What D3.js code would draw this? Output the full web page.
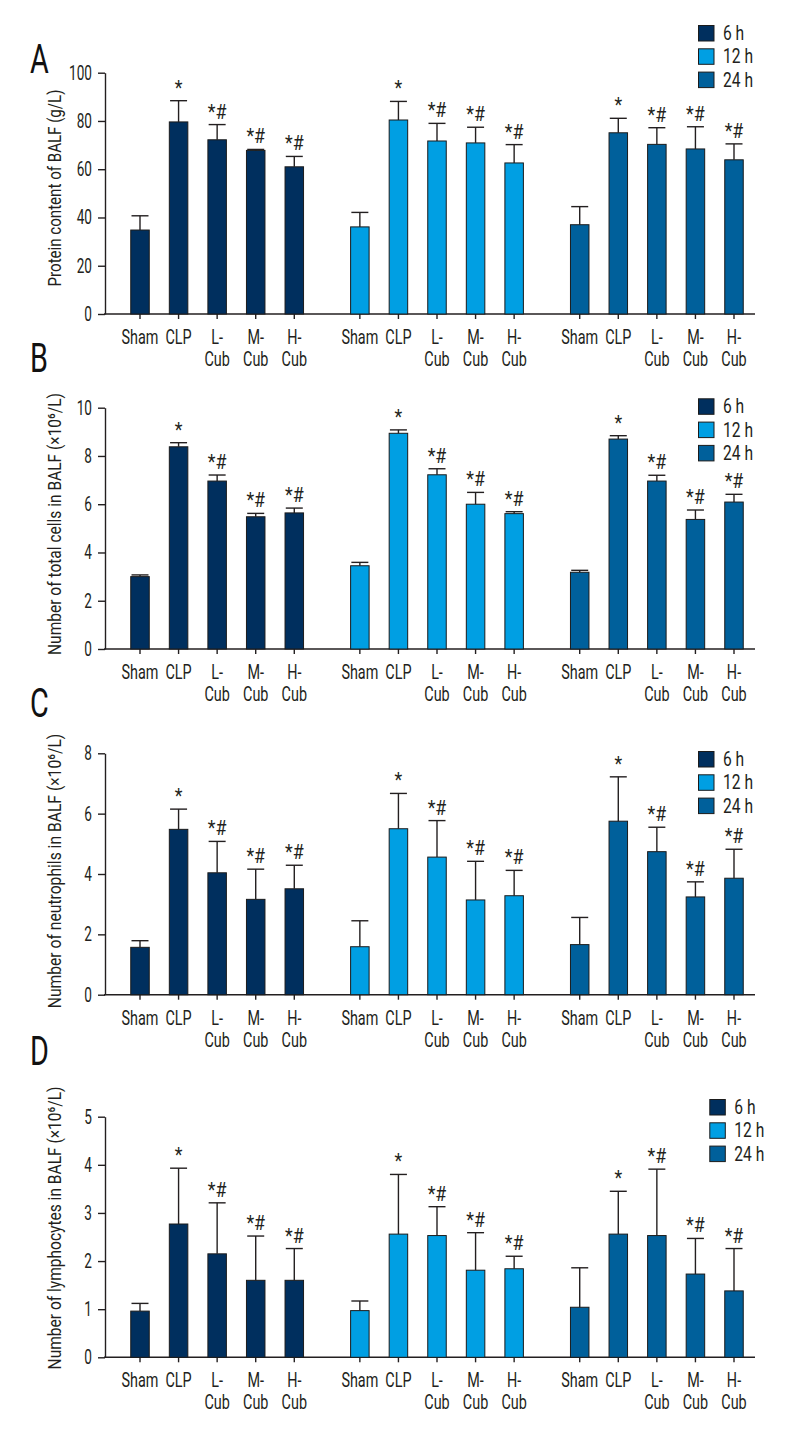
<!DOCTYPE html>
<html lang="en">
<head>
<meta charset="UTF-8">
<title>BALF bar charts</title>
<script src="https://d3js.org/d3.v7.min.js"></script>
<style>
  body { margin: 0; background: #fff; }
  svg { display: block; font-family: Roboto, "Noto Sans", sans-serif; }
</style>
</head>
<body>
<svg id="chart" width="800" height="1440"></svg>
<script>
// groups and time points
const groupLines = [["Sham"], ["CLP"], ["L-", "Cub"], ["M-", "Cub"], ["H-", "Cub"]];
const times = ["6 h", "12 h", "24 h"];
const marks = ["", "*", "*#", "*#", "*#"];
const colors = ["#002f5e", "#009fe3", "#00609b"];

// A: protein content (g/L), mean and SD per time point
const proteinMean = [[34.8, 79.6, 72.2, 67.8, 61.0], [36.1, 80.4, 71.7, 70.9, 62.6], [37.0, 75.1, 70.3, 68.4, 63.9]];
const proteinSd   = [[5.9, 8.8, 6.3, 0.4, 4.3], [6.0, 7.7, 7.3, 6.5, 7.6], [7.5, 6.0, 6.9, 9.2, 6.6]];
const proteinTicks = [0, 20, 40, 60, 80, 100];

// B: total cells
const totalMean = [[3.0, 8.38, 6.96, 5.48, 5.64], [3.45, 8.94, 7.22, 6.0, 5.61], [3.18, 8.70, 6.96, 5.37, 6.09]];
const totalSd   = [[0.07, 0.17, 0.25, 0.14, 0.2], [0.14, 0.14, 0.25, 0.49, 0.08], [0.08, 0.14, 0.24, 0.39, 0.32]];
const totalTicks = [0, 2, 4, 6, 8, 10];

// C: neutrophils
const neutroMean = [[1.57, 5.48, 4.04, 3.16, 3.51], [1.59, 5.50, 4.56, 3.14, 3.28], [1.66, 5.75, 4.74, 3.24, 3.86]];
const neutroSd   = [[0.22, 0.67, 1.04, 1.0, 0.78], [0.86, 1.17, 1.21, 1.28, 0.84], [0.9, 1.47, 0.81, 0.5, 0.96]];
const neutroTicks = [0, 2, 4, 6, 8];

// D: lymphocytes
const lymphoMean = [[0.96, 2.77, 2.15, 1.60, 1.60], [0.97, 2.56, 2.53, 1.81, 1.84], [1.04, 2.56, 2.53, 1.73, 1.38]];
const lymphoSd   = [[0.16, 1.16, 1.06, 0.92, 0.66], [0.2, 1.24, 0.6, 0.78, 0.26], [0.82, 0.89, 1.38, 0.74, 0.88]];
const lymphoTicks = [0, 1, 2, 3, 4, 5];

const panels = [
  { letter: "A", title: "Protein content of BALF (g/L)", mean: proteinMean, sd: proteinSd, ticks: proteinTicks,
    top: 72.7, bottom: 314, letterY: 73.5, legendX: 698, legendY: 25, titleY: 188, titleLen: 197 },
  { letter: "B", title: "Number of total cells in BALF  (×10⁶/L)", mean: totalMean, sd: totalSd, ticks: totalTicks,
    top: 407.7, bottom: 649, letterY: 372, legendX: 698, legendY: 398.3, titleY: 524, titleLen: 262 },
  { letter: "C", title: "Number of neutrophils in BALF  (×10⁶/L)", mean: neutroMean, sd: neutroSd, ticks: neutroTicks,
    top: 753.3, bottom: 994.7, letterY: 717, legendX: 698, legendY: 751, titleY: 871, titleLen: 275 },
  { letter: "D", title: "Number of lymphocytes in BALF  (×10⁶/L)", mean: lymphoMean, sd: lymphoSd, ticks: lymphoTicks,
    top: 1116.7, bottom: 1357.3, letterY: 1065, legendX: 709.3, legendY: 1099, titleY: 1228, titleLen: 283 }
];

const svg = d3.select("#chart");
const axisX = 105, axisEnd = 755;
const groupGap = 5.7;          // distance between time blocks, in bar steps
const barW = 18.5, capW = 17;
const ink = "#231f20";

// bar index -> x centre
const x = d3.scaleLinear().domain([0, 4 + 2 * groupGap]).range([140, 734]);

// squeeze text horizontally (the original uses a condensed face)
function condense(sel, f) {
  sel.each(function () {
    const t = d3.select(this);
    const x0 = +t.attr("x") || 0;
    const tr = t.attr("transform") || "";
    t.attr("x", x0 / f).attr("transform", (tr + ` scale(${f},1)`).trim());
  });
}

panels.forEach(p => {
  const g = svg.append("g");
  const yMax = p.ticks[p.ticks.length - 1];
  const y = d3.scaleLinear().domain([0, yMax]).range([p.bottom, p.top]);

  // flatten into bar records
  const bars = [];
  times.forEach((t, ti) => {
    groupLines.forEach((gl, gi) => {
      bars.push({ ti, gi, idx: ti * groupGap + gi, mean: p.mean[ti][gi], sd: p.sd[ti][gi] });
    });
  });

  // y axis
  const yAxis = g.append("g")
    .attr("transform", `translate(${axisX},0)`)
    .call(d3.axisLeft(y).tickValues(p.ticks).tickFormat(d3.format("d"))
      .tickSize(7).tickPadding(6).tickSizeOuter(0));
  yAxis.selectAll("path, line").attr("stroke", ink).attr("stroke-width", 1.4);
  yAxis.selectAll("text").attr("font-size", 20).attr("fill", ink).attr("font-family", "Roboto");
  condense(yAxis.selectAll("text"), 0.68);

  // x axis line and ticks
  g.append("line")
    .attr("x1", axisX - 1).attr("x2", axisEnd)
    .attr("y1", p.bottom).attr("y2", p.bottom)
    .attr("stroke", ink).attr("stroke-width", 1.4);

  g.append("g").selectAll("line").data(bars).join("line")
    .attr("x1", d => x(d.idx)).attr("x2", d => x(d.idx))
    .attr("y1", p.bottom).attr("y2", p.bottom + 5)
    .attr("stroke", ink).attr("stroke-width", 1.4);

  // category labels
  const lab = g.append("g").attr("font-size", 20).attr("fill", ink).attr("text-anchor", "middle");
  bars.forEach(d => {
    groupLines[d.gi].forEach((line, li) => {
      lab.append("text")
        .attr("x", x(d.idx))
        .attr("y", p.bottom + 30 + li * 22)
        .text(line);
    });
  });
  condense(lab.selectAll("text"), 0.72);

  // bars
  g.append("g").selectAll("rect").data(bars).join("rect")
    .attr("x", d => x(d.idx) - barW / 2)
    .attr("width", barW)
    .attr("y", d => y(d.mean))
    .attr("height", d => p.bottom - y(d.mean))
    .attr("fill", d => colors[d.ti])
    .attr("stroke", "#1b1b1b").attr("stroke-width", 1);

  // error bars (upper only)
  const err = g.append("g").attr("stroke", ink).attr("stroke-width", 1.4);
  err.selectAll("line.v").data(bars).join("line").attr("class", "v")
    .attr("x1", d => x(d.idx)).attr("x2", d => x(d.idx))
    .attr("y1", d => y(d.mean)).attr("y2", d => y(d.mean + d.sd));
  err.selectAll("line.c").data(bars).join("line").attr("class", "c")
    .attr("x1", d => x(d.idx) - capW / 2).attr("x2", d => x(d.idx) + capW / 2)
    .attr("y1", d => y(d.mean + d.sd)).attr("y2", d => y(d.mean + d.sd));

  // significance marks
  const sig = g.append("g").attr("font-size", 21).attr("fill", ink).attr("text-anchor", "middle")
    .selectAll("text").data(bars.filter(d => marks[d.gi])).join("text")
    .attr("x", d => x(d.idx))
    .attr("y", d => y(d.mean + d.sd) - 6)
    .text(d => marks[d.gi]);
  condense(sig, 0.85);

  // y title, squeezed to the reference length
  const title = g.append("text")
    .attr("transform", `translate(61,${p.titleY}) rotate(-90)`)
    .attr("text-anchor", "middle")
    .attr("font-size", 18.5).attr("fill", ink)
    .text(p.title);
  condense(title, p.titleLen / title.node().getComputedTextLength());

  // panel letter
  const letter = g.append("text")
    .attr("x", 30).attr("y", p.letterY)
    .attr("font-size", 40).attr("fill", "#111")
    .text(p.letter);
  condense(letter, 0.72);

  // legend
  const leg = g.append("g").attr("transform", `translate(${p.legendX},${p.legendY})`);
  times.forEach((t, i) => {
    leg.append("rect")
      .attr("x", 0.5).attr("y", i * 23.3 + 0.5)
      .attr("width", 15.5).attr("height", 15.5)
      .attr("fill", colors[i]).attr("stroke", "#1b1b1b").attr("stroke-width", 1);
    leg.append("text")
      .attr("x", 25).attr("y", i * 23.3 + 15)
      .attr("font-size", 20).attr("fill", ink)
      .text(t);
  });
  condense(leg.selectAll("text"), 0.78);
});
</script>
</body>
</html>
